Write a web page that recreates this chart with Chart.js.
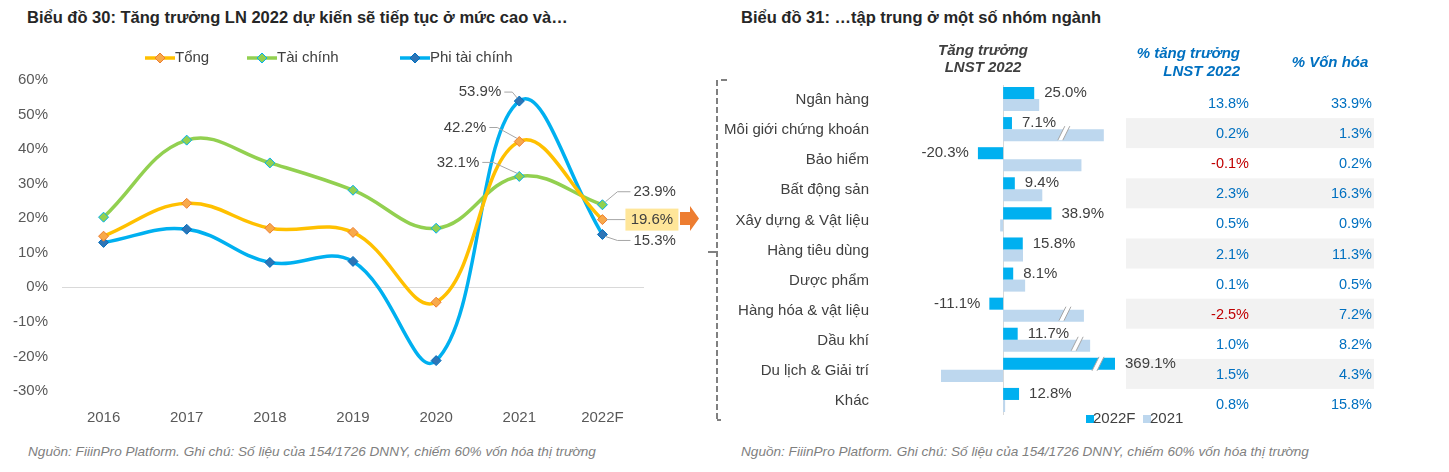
<!DOCTYPE html>
<html>
<head>
<meta charset="utf-8">
<script src="https://cdn.jsdelivr.net/npm/chart.js@4.4.1/dist/chart.umd.min.js"></script>
<style>
  body { margin: 0; width: 1449px; height: 472px; background: #fff; position: relative; overflow: hidden;
         font-family: 'Liberation Sans', Arial, sans-serif; }
  .title { position: absolute; font-size: 16.5px; font-weight: bold; color: #262626; line-height: 20px; white-space: nowrap; }
  .note { position: absolute; font-size: 13.6px; font-style: italic; color: #7f7f7f; line-height: 16px; white-space: nowrap; }
  .box { position: absolute; }
</style>
</head>
<body>
<div class="title" style="left:27px;top:7px">Biểu đồ 30: Tăng trưởng LN 2022 dự kiến sẽ tiếp tục ở mức cao và…</div>
<div class="title" style="left:741px;top:7px">Biểu đồ 31: …tập trung ở một số nhóm ngành</div>
<div class="box" style="left:0;top:40px;width:700px;height:390px"><canvas id="lineChart"></canvas></div>
<div class="box" style="left:700px;top:30px;width:749px;height:410px"><canvas id="barChart"></canvas></div>
<div class="note" style="left:28px;top:444px">Nguồn: FiiinPro Platform. Ghi chú: Số liệu của 154/1726 DNNY, chiếm 60% vốn hóa thị trường</div>
<div class="note" style="left:741px;top:444px">Nguồn: FiiinPro Platform. Ghi chú: Số liệu của 154/1726 DNNY, chiếm 60% vốn hóa thị trường</div>
<script>
// Biểu đồ 30
const years = ['2016', '2017', '2018', '2019', '2020', '2021', '2022F'];
const tong = [14.8, 24.3, 17.1, 15.9, -4.3, 42.2, 19.6];
const taiChinh = [20.3, 42.6, 36.0, 28.1, 17.1, 32.1, 23.9];
const phiTaiChinh = [13.0, 16.8, 7.2, 7.5, -21.2, 53.9, 15.3];

// Biểu đồ 31
const nganh = ['Ngân hàng', 'Môi giới chứng khoán', 'Bảo hiểm', 'Bất động sản', 'Xây dựng & Vật liệu',
  'Hàng tiêu dùng', 'Dược phẩm', 'Hàng hóa & vật liệu', 'Dầu khí', 'Du lịch & Giải trí', 'Khác'];
const tang2022F = [25.0, 7.1, -20.3, 9.4, 38.9, 15.8, 8.1, -11.1, 11.7, 369.1, 12.8];
const tang2021 = [29, 81, 63, 31.5, -2.4, 16, 17.7, 65, 70, -50, 1.6];
const dongGopLNST = [13.8, 0.2, -0.1, 2.3, 0.5, 2.1, 0.1, -2.5, 1.0, 1.5, 0.8];
const vonHoa = [33.9, 1.3, 0.2, 16.3, 0.9, 11.3, 0.5, 7.2, 8.2, 4.3, 15.8];
// bars drawn with an axis break: [dataset, index, px before bar end]
const brokenBars = [[1, 1, 40], [1, 7, 19], [1, 8, 13], [0, 9, 17]];

const FONT = "'Liberation Sans', Arial, sans-serif";
Chart.defaults.font.family = FONT;
Chart.defaults.color = '#595959';

const lineColors = ['#FFC000', '#92D050', '#00B0F0'];
const markerFill = ['#F8A94A', '#92D050', '#2E75B6'];
const markerBorder = ['#ED7D31', '#00B0F0', '#0070C0'];

const lineExtras = {
  id: 'lineExtras',
  afterDraw(chart) {
    const ctx = chart.ctx;
    ctx.save();
    // legend
    const items = [['Tổng', 160], ['Tài chính', 262], ['Phi tài chính', 415]];
    ctx.font = '15px ' + FONT;
    ctx.textBaseline = 'middle';
    items.forEach((it, i) => {
      const y = 18;
      ctx.strokeStyle = lineColors[i];
      ctx.lineWidth = 3.5;
      ctx.beginPath(); ctx.moveTo(it[1] - 15, y); ctx.lineTo(it[1] + 15, y); ctx.stroke();
      ctx.fillStyle = markerFill[i];
      ctx.strokeStyle = markerBorder[i];
      ctx.lineWidth = 1;
      ctx.beginPath();
      ctx.moveTo(it[1], y - 5); ctx.lineTo(it[1] + 5, y); ctx.lineTo(it[1], y + 5); ctx.lineTo(it[1] - 5, y);
      ctx.closePath(); ctx.fill(); ctx.stroke();
      ctx.fillStyle = '#404040';
      ctx.textAlign = 'left';
      ctx.fillText(it[0], it[1] + 15, y);
    });
    // arrow
    ctx.fillStyle = '#ED7D31';
    ctx.beginPath();
    ctx.moveTo(680, 172); ctx.lineTo(690, 172); ctx.lineTo(690, 166); ctx.lineTo(699, 178.5);
    ctx.lineTo(690, 191); ctx.lineTo(690, 185); ctx.lineTo(680, 185); ctx.closePath(); ctx.fill();
    ctx.restore();
  },
  afterDatasetsDraw(chart) {
    const ctx = chart.ctx;
    const pt = (d, i) => chart.getDatasetMeta(d).data[i];
    const vals = [tong, taiChinh, phiTaiChinh];
    const txt = (d, i) => vals[d][i].toFixed(1) + '%';
    ctx.save();
    ctx.font = '15px ' + FONT;
    ctx.textBaseline = 'middle';
    ctx.strokeStyle = '#A6A6A6';
    ctx.lineWidth = 1;
    // left-side labels at 2021: [dataset, text offset x, text offset y, elbow]
    [[2, -18, -9, -7], [0, -33, -14, -22], [1, -40, -14, -26]].forEach(([d, dx, dy, ex]) => {
      const p = pt(d, 5);
      ctx.beginPath();
      ctx.moveTo(p.x + dx + 3, p.y + dy); ctx.lineTo(p.x + ex, p.y + dy); ctx.lineTo(p.x - 2, p.y - 3);
      ctx.stroke();
      ctx.fillStyle = '#404040'; ctx.textAlign = 'right';
      ctx.fillText(txt(d, 5), p.x + dx, p.y + dy);
    });
    // right-side labels at 2022F
    [[1, -13], [2, 6]].forEach(([d, dy]) => {
      const p = pt(d, 6);
      ctx.beginPath();
      ctx.moveTo(p.x + 3, p.y + (dy < 0 ? -3 : 2)); ctx.lineTo(p.x + 15, p.y + dy); ctx.lineTo(p.x + 28, p.y + dy);
      ctx.stroke();
      ctx.fillStyle = '#404040'; ctx.textAlign = 'left';
      ctx.fillText(txt(d, 6), p.x + 31, p.y + dy);
    });
    const p = pt(0, 6);
    ctx.beginPath(); ctx.moveTo(p.x + 4, p.y); ctx.lineTo(p.x + 23, p.y); ctx.stroke();
    ctx.fillStyle = '#FFE699';
    ctx.fillRect(p.x + 23, p.y - 11, 53, 22);
    ctx.fillStyle = '#404040'; ctx.textAlign = 'center';
    ctx.fillText(txt(0, 6), p.x + 49.5, p.y);
    ctx.restore();
  }
};

const mkLine = (label, data, i) => ({
  label, data,
  borderColor: lineColors[i],
  borderWidth: 3.5,
  tension: 0.4,
  pointStyle: 'rectRot',
  pointRadius: 5,
  pointBackgroundColor: markerFill[i],
  pointBorderColor: markerBorder[i],
  pointBorderWidth: 1
});

new Chart(document.getElementById('lineChart').getContext('2d'), {
  type: 'line',
  data: {
    labels: years,
    datasets: [mkLine('Tổng', tong, 0), mkLine('Tài chính', taiChinh, 1), mkLine('Phi tài chính', phiTaiChinh, 2)]
  },
  options: {
    responsive: true,
    maintainAspectRatio: false,
    animation: false,
    layout: { padding: { top: 40, right: 56, left: 0, bottom: 0 } },
    plugins: { legend: { display: false }, tooltip: { enabled: false } },
    scales: {
      x: {
        offset: true,
        grid: { display: false },
        border: { display: false },
        ticks: { padding: 10, font: { size: 15 }, color: '#595959' },
        afterFit: s => { s.height = 39; }
      },
      y: {
        min: -30, max: 60,
        ticks: { stepSize: 10, padding: 14, font: { size: 15 }, color: '#595959', callback: v => v + '%' },
        grid: { drawTicks: false, color: c => c.tick && c.tick.value === 0 ? '#D9D9D9' : 'rgba(0,0,0,0)' },
        border: { display: false },
        afterFit: s => { s.width = 62; }
      }
    }
  },
  plugins: [lineExtras]
});

// ---------- bar chart with table ----------
function drawBreak(ctx, x, y) {
  ctx.save();
  ctx.translate(x, y);
  ctx.beginPath();
  ctx.moveTo(-6, 5); ctx.lineTo(1, -9); ctx.lineTo(6, -9); ctx.lineTo(-1, 5); ctx.closePath();
  ctx.fillStyle = '#fff'; ctx.fill();
  ctx.strokeStyle = '#A6A6A6'; ctx.lineWidth = 1;
  ctx.beginPath();
  ctx.moveTo(-6, 5); ctx.lineTo(1, -9); ctx.moveTo(-1, 5); ctx.lineTo(6, -9);
  ctx.stroke();
  ctx.restore();
}

const barExtras = {
  id: 'barExtras',
  beforeDatasetsDraw(chart) {
    const ctx = chart.ctx, a = chart.chartArea, x = chart.scales.x, y = chart.scales.y;
    ctx.save();
    // table bands
    ctx.fillStyle = '#F2F2F2';
    nganh.forEach((n, i) => {
      if (i % 2 === 1) {
        const yc = y.getPixelForValue(i) + 4;
        ctx.fillRect(426, yc - 15, 248, 30);
      }
    });
    // zero line
    ctx.strokeStyle = '#D9D9D9'; ctx.lineWidth = 1;
    const x0 = Math.round(x.getPixelForValue(0)) + 0.5;
    ctx.beginPath(); ctx.moveTo(x0, a.top + 1); ctx.lineTo(x0, a.bottom); ctx.stroke();
    ctx.restore();
  },
  afterDatasetsDraw(chart) {
    const ctx = chart.ctx, a = chart.chartArea, y = chart.scales.y;
    ctx.save();
    // category labels
    ctx.font = '15px ' + FONT;
    ctx.textBaseline = 'middle';
    ctx.fillStyle = '#404040';
    ctx.textAlign = 'right';
    nganh.forEach((n, i) => ctx.fillText(n, 169, y.getPixelForValue(i) + 1));
    // break marks
    brokenBars.forEach(([d, i, off]) => {
      const b = chart.getDatasetMeta(d).data[i];
      drawBreak(ctx, Math.min(b.x, a.right) - off, b.y + (d === 0 ? 2 : 0));
    });
    // value labels for 2022F
    chart.getDatasetMeta(0).data.forEach((b, i) => {
      const v = tang2022F[i];
      const t = v.toFixed(1) + '%';
      ctx.fillStyle = '#404040';
      if (v >= 0) {
        ctx.textAlign = 'left';
        ctx.fillText(t, Math.min(b.x, a.right) + 10, b.y);
      } else {
        ctx.textAlign = 'right';
        ctx.fillText(t, b.x - 9, b.y);
      }
    });
    // table values
    ctx.font = '14.5px ' + FONT;
    ctx.textAlign = 'right';
    nganh.forEach((n, i) => {
      const yc = y.getPixelForValue(i) + 5;
      ctx.fillStyle = dongGopLNST[i] < 0 ? '#C00000' : '#0070C0';
      ctx.fillText(dongGopLNST[i].toFixed(1) + '%', 549, yc);
      ctx.fillStyle = '#0070C0';
      ctx.fillText(vonHoa[i].toFixed(1) + '%', 672, yc);
    });
    // headers
    ctx.font = 'italic bold 15px ' + FONT;
    ctx.fillStyle = '#404040';
    ctx.textAlign = 'center';
    ctx.fillText('Tăng trưởng', 283, 21);
    ctx.fillText('LNST 2022', 283, 38);
    ctx.fillStyle = '#0070C0';
    ctx.textAlign = 'right';
    ctx.fillText('% tăng trưởng', 540, 24);
    ctx.fillText('LNST 2022', 540, 42);
    ctx.textAlign = 'center';
    ctx.fillText('% Vốn hóa', 630, 33);
    // legend
    ctx.font = '15px ' + FONT;
    ctx.textAlign = 'left';
    ctx.fillStyle = '#00B0F0'; ctx.fillRect(386, 385, 8, 8);
    ctx.fillStyle = '#404040'; ctx.fillText('2022F', 393, 389);
    ctx.fillStyle = '#BDD7EE'; ctx.fillRect(443, 385, 8, 8);
    ctx.fillStyle = '#404040'; ctx.fillText('2021', 450, 389);
    // bracket
    ctx.strokeStyle = '#808080'; ctx.lineWidth = 2;
    ctx.setLineDash([6, 3]);
    ctx.beginPath(); ctx.moveTo(17, 50); ctx.lineTo(17, 390); ctx.stroke();
    ctx.setLineDash([]);
    ctx.beginPath();
    ctx.moveTo(21, 50); ctx.lineTo(27, 50);
    ctx.moveTo(8, 222); ctx.lineTo(16, 222);
    ctx.moveTo(17, 390); ctx.lineTo(21, 390);
    ctx.stroke();
    ctx.restore();
  }
};

new Chart(document.getElementById('barChart').getContext('2d'), {
  type: 'bar',
  data: {
    labels: nganh,
    datasets: [
      { label: '2022F', data: tang2022F, backgroundColor: '#00B0F0', clip: 0 },
      { label: '2021', data: tang2021, backgroundColor: '#BDD7EE', clip: 0 }
    ]
  },
  options: {
    indexAxis: 'y',
    responsive: true,
    maintainAspectRatio: false,
    animation: false,
    layout: { padding: { top: 54, right: 334, left: 241, bottom: 25 } },
    plugins: { legend: { display: false }, tooltip: { enabled: false } },
    datasets: { bar: { categoryPercentage: 0.8, barPercentage: 1.0 } },
    scales: {
      x: { display: false, min: -50, max: 90 },
      y: { display: false }
    }
  },
  plugins: [barExtras]
});
</script>
</body>
</html>
